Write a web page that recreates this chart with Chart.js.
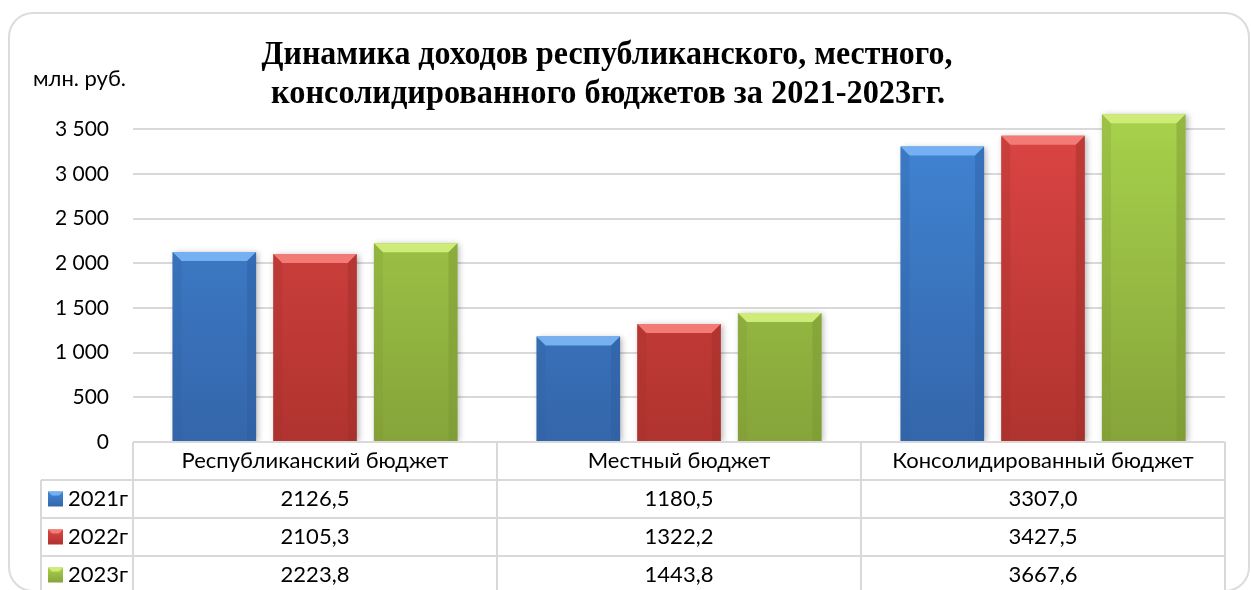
<!DOCTYPE html>
<html>
<head>
<meta charset="utf-8">
<script src="https://cdn.jsdelivr.net/npm/chart.js@4/dist/chart.umd.min.js"></script>
<style>
    html, body { margin: 0; padding: 0; background: #fff; }
    #wrap { width: 1251px; height: 590px; position: relative; }
</style>
</head>
<body>
<div id="wrap"><canvas id="chart_budget"></canvas></div>
<script>
const categories = ["Республиканский бюджет", "Местный бюджет", "Консолидированный бюджет"];
const years = ["2021г", "2022г", "2023г"];
const values_2021 = [2126.5, 1180.5, 3307.0];
const values_2022 = [2105.3, 1322.2, 3427.5];
const values_2023 = [2223.8, 1443.8, 3667.6];
const yTicks = [0, 500, 1000, 1500, 2000, 2500, 3000, 3500];
const unitLabel = "млн. руб.";
const titleLines = ["Динамика доходов республиканского, местного,", "консолидированного бюджетов за 2021-2023гг."];

const baseFont = "Lato, 'Noto Sans', sans-serif";
const gridColor = "#d9d9d9";

// body top/bottom, top bevel, side shade
const palette = [
    { top: "#4186d6", bottom: "#3466aa", bevel: "#74b0f2", side: "#2f5e9f" },
    { top: "#dd4644", bottom: "#b0332f", bevel: "#f27b76", side: "#a02e2b" },
    { top: "#a8d24c", bottom: "#86a43a", bevel: "#d0ec78", side: "#7a9632" }
];

function fmt(v) {
    return v.toFixed(1).replace(".", ",");
}

function bodyGradient(ctx, idx) {
    const chart = ctx.chart;
    const area = chart.chartArea;
    if (!area) return palette[idx].top;
    const g = chart.ctx.createLinearGradient(0, area.top, 0, area.bottom);
    g.addColorStop(0, palette[idx].top);
    g.addColorStop(1, palette[idx].bottom);
    return g;
}

const cardPlugin = {
    id: "card",
    beforeDraw(chart) {
        const ctx = chart.ctx;
        ctx.save();
        ctx.strokeStyle = "#dcdcdc";
        ctx.lineWidth = 2;
        ctx.beginPath();
        ctx.roundRect(9, 13, 1240, 578, 24);
        ctx.stroke();
        ctx.restore();
    }
};

const shadowPlugin = {
    id: "barShadow",
    beforeDatasetsDraw(chart) {
        const ctx = chart.ctx;
        ctx.save();
        ctx.shadowColor = "rgba(0,0,0,0.28)";
        ctx.shadowBlur = 6;
        ctx.shadowOffsetX = 2;
        ctx.shadowOffsetY = 1;
    },
    afterDatasetsDraw(chart) {
        chart.ctx.restore();
    }
};

const bevelPlugin = {
    id: "bevel",
    afterDatasetsDraw(chart) {
        const ctx = chart.ctx;
        const b = 9;
        ctx.save();
        chart.data.datasets.forEach(function (ds, i) {
            const meta = chart.getDatasetMeta(i);
            meta.data.forEach(function (bar) {
                const half = bar.width / 2;
                const l = bar.x - half, r = bar.x + half, t = bar.y, base = bar.base;
                // top bevel
                ctx.fillStyle = palette[i].bevel;
                ctx.beginPath();
                ctx.moveTo(l, t); ctx.lineTo(r, t); ctx.lineTo(r - b, t + b); ctx.lineTo(l + b, t + b);
                ctx.closePath();
                ctx.fill();
                // right side shade
                ctx.globalAlpha = 0.45;
                ctx.fillStyle = palette[i].side;
                ctx.beginPath();
                ctx.moveTo(r, t); ctx.lineTo(r - b, t + b); ctx.lineTo(r - b, base); ctx.lineTo(r, base);
                ctx.closePath();
                ctx.fill();
                // left side shade
                ctx.globalAlpha = 0.25;
                ctx.beginPath();
                ctx.moveTo(l, t); ctx.lineTo(l + b, t + b); ctx.lineTo(l + b, base); ctx.lineTo(l, base);
                ctx.closePath();
                ctx.fill();
                ctx.globalAlpha = 1;
            });
        });
        ctx.restore();
    }
};

const textPlugin = {
    id: "texts",
    afterDraw(chart) {
        const ctx = chart.ctx;
        ctx.save();
        // title, narrow bold serif
        ctx.fillStyle = "#000";
        ctx.font = "bold 33px 'Liberation Serif', 'DejaVu Serif', serif";
        ctx.textAlign = "center";
        ctx.textBaseline = "alphabetic";
        const widths = [691, 674];
        const baselines = [64, 103];
        const centers = [607, 608];
        titleLines.forEach(function (line, i) {
            const w = ctx.measureText(line).width;
            ctx.save();
            ctx.translate(centers[i], baselines[i]);
            ctx.scale(widths[i] / w, 1);
            ctx.fillText(line, 0, 0);
            ctx.restore();
        });
        // unit label
        ctx.font = "22px " + baseFont;
        ctx.textAlign = "left";
        ctx.textBaseline = "middle";
        ctx.fillText(unitLabel, 33, 79);
        ctx.restore();
    }
};

// data table under the plot, columns follow the x scale
const tablePlugin = {
    id: "dataTable",
    afterDraw(chart) {
        const ctx = chart.ctx;
        const area = chart.chartArea;
        const xs = chart.scales.x;
        const rowH = 38;
        const top = area.bottom;
        const legendLeft = 41;
        const catW = (area.right - area.left) / categories.length;
        const rows = [values_2021, values_2022, values_2023];

        ctx.save();
        ctx.strokeStyle = gridColor;
        ctx.lineWidth = 2;
        ctx.beginPath();
        // header row
        ctx.moveTo(area.left, top); ctx.lineTo(area.right, top);
        ctx.moveTo(legendLeft, top + rowH); ctx.lineTo(area.right, top + rowH);
        for (let r = 1; r <= rows.length; r++) {
            ctx.moveTo(legendLeft, top + rowH * (r + 1)); ctx.lineTo(area.right, top + rowH * (r + 1));
        }
        for (let c = 0; c <= categories.length; c++) {
            const x = area.left + catW * c;
            ctx.moveTo(x, top); ctx.lineTo(x, top + rowH * (rows.length + 1));
        }
        ctx.moveTo(legendLeft, top + rowH); ctx.lineTo(legendLeft, top + rowH * (rows.length + 1));
        ctx.stroke();

        ctx.fillStyle = "#000";
        ctx.font = "22px " + baseFont;
        ctx.textAlign = "center";
        ctx.textBaseline = "middle";
        categories.forEach(function (cat, i) {
            ctx.fillText(cat, xs.getPixelForValue(i), top + rowH / 2);
        });
        rows.forEach(function (vals, r) {
            const cy = top + rowH * (r + 1) + rowH / 2;
            vals.forEach(function (v, i) {
                ctx.fillText(fmt(v), xs.getPixelForValue(i), cy);
            });
            // legend marker
            const mx = 48, ms = 15, my = cy - ms / 2;
            const g = ctx.createLinearGradient(0, my, 0, my + ms);
            g.addColorStop(0, palette[r].top);
            g.addColorStop(1, palette[r].bottom);
            ctx.fillStyle = g;
            ctx.fillRect(mx, my, ms, ms);
            ctx.fillStyle = palette[r].bevel;
            ctx.beginPath();
            ctx.moveTo(mx, my); ctx.lineTo(mx + ms, my); ctx.lineTo(mx + ms - 4, my + 4); ctx.lineTo(mx + 4, my + 4);
            ctx.closePath();
            ctx.fill();
            ctx.fillStyle = "#000";
            ctx.textAlign = "left";
            ctx.fillText(years[r], 68, cy);
            ctx.textAlign = "center";
        });
        ctx.restore();
    }
};

const data = {
    labels: categories,
    datasets: [values_2021, values_2022, values_2023].map(function (vals, i) {
        return {
            label: years[i],
            data: vals,
            backgroundColor: function (ctx) { return bodyGradient(ctx, i); },
            borderWidth: 0,
            categoryPercentage: 0.83,
            barPercentage: 0.83
        };
    })
};

const config = {
    type: "bar",
    data: data,
    options: {
        responsive: false,
        animation: false,
        devicePixelRatio: 1,
        layout: { padding: { top: 107, right: 26, bottom: 148, left: 0 } },
        plugins: {
            legend: { display: false },
            title: { display: false },
            tooltip: { enabled: false }
        },
        scales: {
            x: {
                display: false
            },
            y: {
                min: 0,
                max: 3750,
                afterBuildTicks: function (scale) {
                    scale.ticks = yTicks.map(function (v) { return { value: v }; });
                },
                afterFit: function (scale) { scale.width = 133; },
                border: { display: false },
                grid: { color: gridColor, lineWidth: 2, drawTicks: false },
                ticks: {
                    padding: 24,
                    color: "#000",
                    font: { family: baseFont, size: 21 },
                    callback: function (v) { return String(v).replace(/\B(?=(\d{3})+(?!\d))/g, " "); }
                }
            }
        }
    },
    plugins: [cardPlugin, shadowPlugin, bevelPlugin, textPlugin, tablePlugin]
};

const canvas = document.getElementById("chart_budget");
canvas.width = 1251;
canvas.height = 590;
const myChart = new Chart(canvas, config);
</script>
</body>
</html>
